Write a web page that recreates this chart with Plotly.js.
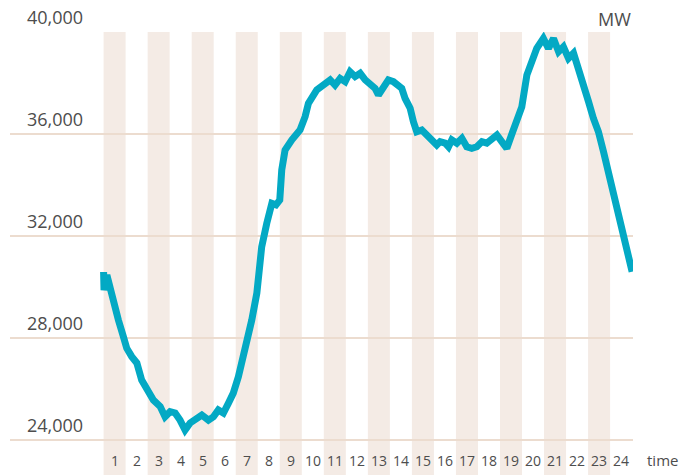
<!DOCTYPE html>
<html>
<head>
<meta charset="utf-8">
<script src="https://cdn.plot.ly/plotly-3.0.1.min.js"></script>
<style>
  html, body { margin: 0; padding: 0; background: #ffffff; }
  #chart { width: 681px; height: 475px; }
</style>
</head>
<body>
<div id="chart"></div>
<script>
// time of day in hours (0 = start of hour 1)
var timeHours = [
  0.00, 0.02, 0.15, 0.30, 0.52, 0.67, 0.90, 1.05, 1.28, 1.51,
  1.73, 1.96, 2.26, 2.57, 2.79, 3.02, 3.25, 3.47, 3.70, 3.93,
  4.16, 4.46, 4.76, 4.99, 5.21, 5.44, 5.67, 5.89, 6.12, 6.35,
  6.50, 6.73, 6.96, 7.03, 7.18, 7.41, 7.64, 7.83, 8.00, 8.09,
  8.24, 8.55, 8.74, 8.92, 9.15, 9.30, 9.68, 10.06, 10.29, 10.51,
  10.74, 10.97, 11.19, 11.42, 11.65, 11.88, 12.10, 12.33, 12.48, 12.71,
  12.93, 13.16, 13.39, 13.54, 13.69, 13.92, 14.07, 14.22, 14.45, 14.68,
  14.90, 15.13, 15.28, 15.51, 15.66, 15.81, 16.04, 16.27, 16.49, 16.72,
  16.95, 17.18, 17.40, 17.63, 17.86, 18.08, 18.31, 18.54, 18.76, 18.99,
  19.22, 19.45, 19.67, 19.97, 20.20, 20.43, 20.66, 20.88, 21.11, 21.34,
  21.56, 21.79, 22.02, 22.24, 22.47, 22.70, 22.92, 23.23, 23.46, 23.68,
  23.91, 24.00
];
// load in MW
var loadMW = [
  30590, 29880, 30470, 29880, 29230, 28710, 28050, 27600, 27270, 27020,
  26350, 25960, 25570, 25310, 24910, 25110, 25060, 24780, 24390, 24670,
  24780, 24980, 24780, 24910, 25180, 25060, 25450, 25840, 26480, 27270,
  27920, 28710, 29770, 30540, 31580, 32500, 33280, 33220, 33410, 34590,
  35370, 35770, 35960, 36160, 36680, 37200, 37730, 37990, 38120, 37920,
  38180, 38050, 38440, 38250, 38380, 38120, 37920, 37790, 37530, 37860,
  38120, 38050, 37860, 37790, 37400, 37010, 36480, 36090, 36160, 35960,
  35700, 35570, 35700, 35640, 35500, 35770, 35640, 35830, 35500, 35440,
  35500, 35700, 35640, 35770, 35960, 35700, 35440, 36000, 36470, 37060,
  38310, 38840, 39360, 39750, 39360, 39750, 39230, 39420, 38970, 39170,
  38580, 38050, 37270, 36620, 36090, 35310, 34520, 33610, 32820, 32040,
  31130, 30600
];
var hourLabels = ['1','2','3','4','5','6','7','8','9','10','11','12',
                  '13','14','15','16','17','18','19','20','21','22','23','24'];
var yTicks = [24000, 28000, 32000, 36000, 40000];
var yTickText = ['24,000', '28,000', '32,000', '36,000', '40,000'];

var textColor = '#4d4d4d';
var bandColor = '#f4ebe5';
var gridColor = '#ecdccf';
var lineColor = '#03a9c4';
var fontFam = '"Open Sans", "Noto Sans", sans-serif';

var shapes = [];
var annotations = [];
hourLabels.forEach(function (lab, i) {
  var h = i + 1;
  if (h % 2 === 1) {
    shapes.push({
      type: 'rect', layer: 'below', xref: 'x', yref: 'paper',
      x0: h - 1, x1: h, y0: 0, y1: 1,
      fillcolor: bandColor, line: { width: 0 }
    });
  }
  annotations.push({
    xref: 'x', yref: 'y', x: h - 0.5, y: 23216,
    text: lab, showarrow: false, xanchor: 'center', yanchor: 'middle',
    font: { family: fontFam, size: 14, color: textColor }
  });
});
yTicks.forEach(function (v, i) {
  annotations.push({
    xref: 'paper', yref: 'y', x: 0.024, y: v, yshift: 1,
    text: yTickText[i], showarrow: false, xanchor: 'left', yanchor: 'bottom',
    font: { family: fontFam, size: 18, color: textColor }
  });
});
annotations.push({
  xref: 'paper', yref: 'paper', x: 1, y: 1.03, text: 'MW', showarrow: false,
  xanchor: 'right', yanchor: 'middle',
  font: { family: fontFam, size: 18, color: textColor }
});
annotations.push({
  xref: 'paper', yref: 'y', x: 1.02, y: 23216, text: 'time', showarrow: false,
  xanchor: 'left', yanchor: 'middle',
  font: { family: fontFam, size: 15, color: textColor }
});

var trace = {
  x: timeHours, y: loadMW, type: 'scatter', mode: 'lines',
  line: { color: lineColor, width: 7, shape: 'linear' },
  hoverinfo: 'skip'
};

var layout = {
  width: 681, height: 475,
  margin: { l: 10, r: 48, t: 32, b: 0, pad: 0 },
  paper_bgcolor: '#ffffff', plot_bgcolor: '#ffffff',
  showlegend: false,
  xaxis: {
    range: [-4.25, 24.04], showgrid: false, zeroline: false,
    showticklabels: false, ticks: '', showline: false, fixedrange: true
  },
  yaxis: {
    range: [22628, 40000], tickvals: yTicks, showgrid: true,
    gridcolor: gridColor, gridwidth: 2, zeroline: false,
    showticklabels: false, ticks: '', showline: false, fixedrange: true
  },
  shapes: shapes,
  annotations: annotations
};

Plotly.newPlot('chart', [trace], layout, { displayModeBar: false, staticPlot: true });
</script>
</body>
</html>
